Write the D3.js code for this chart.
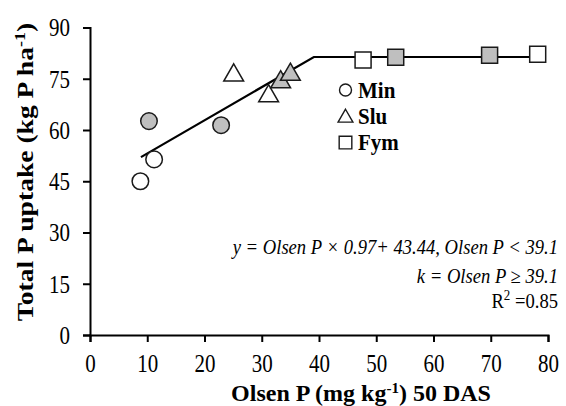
<!DOCTYPE html>
<html>
<head>
<meta charset="utf-8">
<script src="https://cdn.jsdelivr.net/npm/d3@7"></script>
<style>
  html, body { margin: 0; padding: 0; background: #fff; }
  svg { display: block; }
  text { font-family: "Liberation Serif", "Times New Roman", serif; fill: #000; }
</style>
</head>
<body>
<svg id="chart" width="566" height="406"></svg>
<script>
// ---- data ----
const xTicks = [0, 10, 20, 30, 40, 50, 60, 70, 80];
const yTicks = [0, 15, 30, 45, 60, 75, 90];

const groups = ["Min", "Slu", "Fym"];
const minX    = [8.8, 11.2, 10.3, 22.9];
const minY    = [45.0, 51.4, 62.6, 61.4];
const minFill = ["open", "open", "gray", "gray"];
const sluX    = [25.1, 31.2, 33.3, 35.0];
const sluY    = [76.6, 70.5, 74.6, 76.8];
const sluFill = ["open", "open", "gray", "gray"];
const fymX    = [47.7, 78.2, 53.4, 69.8];
const fymY    = [80.5, 82.2, 81.3, 81.9];
const fymFill = ["open", "open", "gray", "gray"];

// fitted linear-plateau line vertices
const fitX = [8.9, 39.1, 78.2];
const fitY = [52.07, 81.37, 81.37];

// ---- layout ----
const SERIF = "'Liberation Serif', 'Times New Roman', serif";
const svg = d3.select("#chart");
const x = d3.scaleLinear().domain([0, 80]).range([90, 548]);
const y = d3.scaleLinear().domain([0, 90]).range([335, 27.5]);

const GRAY = "#bfbfbf", STROKE = "#1a1a1a";
const STRETCH = 1.18;

// axes
const xAxis = svg.append("g").attr("transform", `translate(0,${y(0)})`)
  .call(d3.axisBottom(x).tickValues(xTicks).tickSize(7).tickPadding(8).tickFormat(d3.format("d")));
const yAxis = svg.append("g").attr("transform", `translate(${x(0)},0)`)
  .call(d3.axisLeft(y).tickValues(yTicks).tickSize(7).tickPadding(13).tickFormat(d3.format("d")));
[xAxis, yAxis].forEach(a => {
  a.attr("font-family", SERIF).attr("font-size", 21);
  a.select(".domain").attr("stroke", "#000").attr("stroke-width", 2);
  a.selectAll(".tick line").attr("stroke", "#000").attr("stroke-width", 2);
  a.selectAll(".tick text").attr("font-family", SERIF).style("font-family", SERIF)
    .style("font-size", "21px").attr("fill", "#000");
});
yAxis.selectAll(".tick text").attr("dy", "0.34em").attr("transform", `scale(1,${STRETCH})`);
xAxis.selectAll(".tick text").attr("y", 0).attr("dy", 0)
  .attr("transform", `translate(0,37) scale(1,${STRETCH})`);

// fitted line
svg.append("path")
  .datum(fitX.map((v, i) => [v, fitY[i]]))
  .attr("fill", "none").attr("stroke", "#000").attr("stroke-width", 2.2)
  .attr("d", d3.line().x(d => x(d[0])).y(d => y(d[1])));

// markers
const sym = {
  Min: d3.symbol().type(d3.symbolCircle).size(215),
  Slu: d3.symbol().type(d3.symbolTriangle).size(170),
  Fym: d3.symbol().type(d3.symbolSquare).size(256)
};
const sets = [
  ["Min", minX, minY, minFill],
  ["Slu", sluX, sluY, sluFill],
  ["Fym", fymX, fymY, fymFill]
];
sets.forEach(([g, xs, ys, fs]) => {
  xs.forEach((v, i) => {
    svg.append("path")
      .attr("d", sym[g]())
      .attr("transform", `translate(${x(v)},${y(ys[i]) + (g === "Slu" ? 2 : 0)})`)
      .attr("fill", fs[i] === "gray" ? GRAY : "#fff")
      .attr("stroke", STROKE).attr("stroke-width", 1.5);
  });
});

// legend
const legSym = {
  Min: d3.symbol().type(d3.symbolCircle).size(113),
  Slu: d3.symbol().type(d3.symbolTriangle).size(95),
  Fym: d3.symbol().type(d3.symbolSquare).size(160)
};
groups.forEach((g, i) => {
  const cy = 90 + i * 26.3;
  svg.append("path").attr("d", legSym[g]())
    .attr("transform", `translate(345.5,${cy + (g === "Slu" ? 1.5 : 0)})`)
    .attr("fill", "#fff").attr("stroke", STROKE).attr("stroke-width", 1.4);
  svg.append("text").attr("transform", `translate(358,${cy + 7.5}) scale(1,1.05)`)
    .style("font-size", "21px").style("font-weight", "bold").text(g);
});

// annotations
const ann = svg.append("g").attr("text-anchor", "end");
ann.append("text").attr("transform", "translate(558,254) scale(1,1.1)")
  .style("font-size", "18.6px").style("font-style", "italic")
  .text("y = Olsen P × 0.97+ 43.44, Olsen P < 39.1");
ann.append("text").attr("transform", "translate(558,283) scale(1,1.1)")
  .style("font-size", "18.6px").style("font-style", "italic")
  .text("k = Olsen P ≥ 39.1");
const r2 = ann.append("text").attr("transform", "translate(558,308) scale(1,1.1)").style("font-size", "18.6px");
r2.append("tspan").text("R");
r2.append("tspan").attr("dy", -7).style("font-size", "13px").text("2");
r2.append("tspan").attr("dy", 7).text(" =0.85");

// axis titles
const xt = svg.append("text").attr("x", 361).attr("y", 401).attr("text-anchor", "middle")
  .style("font-size", "24px").style("font-weight", "bold");
xt.append("tspan").text("Olsen P (mg kg");
xt.append("tspan").attr("dy", -8).style("font-size", "15px").text("-1");
xt.append("tspan").attr("dy", 8).text(") 50 DAS");

const yt = svg.append("text").attr("transform", "translate(33,172) scale(1,1.2) rotate(-90)").attr("text-anchor", "middle")
  .style("font-size", "23px").style("font-weight", "bold");
yt.append("tspan").text("Total P uptake (kg P ha");
yt.append("tspan").attr("dy", -8).style("font-size", "15px").text("-1");
yt.append("tspan").attr("dy", 8).text(")");
</script>
</body>
</html>
